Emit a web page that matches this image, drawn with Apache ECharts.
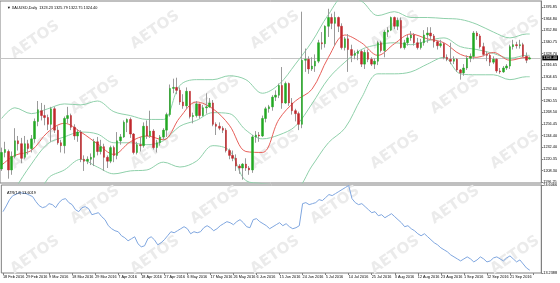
<!DOCTYPE html>
<html><head><meta charset="utf-8">
<script src="https://cdn.jsdelivr.net/npm/echarts@6/dist/echarts.min.js"></script>
<style>html,body{margin:0;padding:0;background:#fff}#c{width:560px;height:283px}</style>
</head><body><div id="c"></div>
<script>
// ---- trading days (categories) ----
const tradingMonths = [
  ['Feb', [18,19,22,23,24,25,26,29]],
  ['Mar', [1,2,3,4,7,8,9,10,11,14,15,16,17,18,21,22,23,24,25,28,29,30,31]],
  ['Apr', [1,4,5,6,7,8,11,12,13,14,15,18,19,20,21,22,25,26,27,28,29]],
  ['May', [2,3,4,5,6,9,10,11,12,13,16,17,18,19,20,23,24,25,26,27,30,31]],
  ['Jun', [1,2,3,6,7,8,9,10,13,14,15,16,17,20,21,22,23,24,27,28,29,30]],
  ['Jul', [1,4,5,6,7,8,11,12,13,14,15,18,19,20,21,22,25,26,27,28,29]],
  ['Aug', [1,2,3,4,5,8,9,10,11,12,15,16,17,18,19,22,23,24,25,26,29,30,31]],
  ['Sep', [1,2,5,6,7,8,9,12,13,14,15,16,19,20,21,22,23,26,27,28,29]]
];
const year = 2016;

// ---- XAUUSD daily OHLC ----
const openP = [
1210,1227,1228,1209,1223,1239,1236,1222,1236,1231,
1241,1259,1270,1265,1263,1256,1272,1250,1237,1234,
1262,1265,1253,1244,1248,1220,1218,1220,1222,1238,
1228,1233,1222,1218,1232,1224,1239,1243,1258,1261,
1246,1227,1235,1234,1254,1244,1249,1232,1237,1243,
1250,1266,1293,1294,1291,1279,1275,1290,1264,1265,
1277,1265,1273,1274,1278,1256,1254,1252,1250,1229,
1224,1221,1213,1211,1215,1211,1209,1243,1245,1244,
1262,1272,1274,1284,1286,1296,1278,1298,1278,1270,
1267,1256,1322,1323,1313,1316,1321,1340,1339,1357,
1366,1360,1366,1357,1335,1344,1333,1327,1329,1331,
1318,1330,1323,1318,1321,1340,1332,1351,1353,1366,
1357,1363,1335,1340,1345,1348,1340,1335,1340,1348,
1350,1347,1341,1337,1339,1325,1323,1321,1323,1312,
1309,1314,1324,1326,1350,1347,1336,1328,1327,1320,
1323,1311,1310,1314,1316,1336,1338,1337,1338,1326,
1323.23];
const closeP = [
1227,1230,1209,1223,1239,1236,1221,1236,1231,1241,
1259,1271,1265,1263,1256,1272,1250,1237,1234,1262,
1265,1253,1244,1248,1220,1218,1220,1222,1238,1228,
1233,1222,1218,1232,1224,1239,1243,1258,1261,1246,
1227,1235,1234,1254,1244,1249,1232,1237,1243,1250,
1266,1293,1294,1291,1279,1275,1290,1264,1265,1277,
1265,1273,1274,1278,1256,1254,1252,1250,1229,1224,
1221,1213,1211,1215,1211,1209,1243,1245,1244,1262,
1272,1274,1284,1286,1296,1278,1298,1278,1270,1267,
1256,1322,1323,1313,1316,1321,1340,1339,1357,1366,
1360,1366,1357,1335,1344,1333,1327,1329,1331,1318,
1330,1323,1318,1321,1340,1332,1351,1353,1366,1357,
1363,1335,1340,1345,1348,1340,1335,1340,1348,1350,
1347,1341,1337,1339,1325,1323,1321,1323,1312,1309,
1314,1324,1326,1350,1347,1336,1328,1327,1320,1323,
1311,1310,1314,1316,1336,1338,1337,1338,1326,1322,
1324.40];
const lowP = [
1208,1222,1200,1204,1221,1229,1216,1220,1225,1227,
1237,1254,1260,1255,1250,1238,1247,1235,1227,1226,
1257,1250,1240,1238,1217,1208,1215,1214,1213,1224,
1225,1208,1211,1216,1217,1220,1235,1242,1248,1242,
1225,1225,1228,1232,1241,1242,1230,1227,1234,1240,
1243,1264,1288,1287,1276,1272,1272,1262,1257,1263,
1262,1264,1267,1273,1254,1245,1250,1247,1227,1220,
1218,1208,1205,1199,1208,1204,1206,1237,1238,1243,
1258,1268,1270,1280,1283,1272,1277,1275,1266,1259,
1250,1252,1310,1308,1311,1310,1319,1333,1335,1346,
1354,1337,1351,1333,1332,1310,1320,1323,1322,1315,
1313,1320,1316,1313,1317,1330,1325,1346,1352,1354,
1353,1334,1333,1337,1342,1337,1333,1333,1337,1340,
1343,1335,1333,1335,1323,1321,1318,1318,1310,1302,
1306,1312,1320,1323,1343,1334,1326,1321,1316,1318,
1309,1308,1309,1312,1313,1333,1334,1334,1325,1319,
1322.75];
const highP = [
1232,1238,1230,1228,1252,1244,1242,1244,1240,1245,
1262,1280,1278,1276,1266,1274,1274,1254,1240,1264,
1274,1267,1256,1251,1250,1224,1223,1226,1241,1243,
1240,1236,1224,1234,1234,1248,1246,1260,1262,1263,
1247,1238,1243,1258,1260,1270,1251,1240,1245,1252,
1268,1297,1303,1304,1294,1287,1294,1290,1268,1280,
1277,1276,1288,1283,1281,1258,1258,1254,1252,1231,
1229,1225,1215,1216,1221,1213,1245,1249,1248,1265,
1274,1276,1286,1291,1298,1315,1300,1299,1283,1272,
1269,1372,1334,1326,1325,1328,1343,1351,1358,1375,
1370,1372,1367,1360,1346,1349,1338,1332,1333,1333,
1333,1333,1325,1324,1342,1342,1353,1356,1367,1367,
1366,1366,1343,1348,1352,1350,1345,1344,1353,1356,
1356,1349,1342,1343,1340,1328,1340,1326,1324,1313,
1318,1327,1329,1352,1352,1349,1340,1331,1329,1326,
1324,1314,1316,1318,1338,1343,1341,1343,1340,1330,
1325.79];

// ---- Bollinger Bands (20) and red MA, read at sample bars ----
const bandIdx = [0,4,9,14,19,24,29,34,39,44,49,54,59,64,69,74,79,84,89,94,99,104,109,114,119,124,129,134,139,144,149,154,159,160];
const bbUpper = [1262,1273,1267,1272,1277,1276,1280,1269,1265,1261,1261,1296,1302,1302,1306,1302,1288,1297,1318,1341,1369,1388,1383,1368,1372,1366,1366,1365,1364,1359,1351,1345,1349,1349];
const bbMiddle = [1165,1189,1215,1236,1243,1248,1246,1237,1237,1235,1239,1254,1260,1268,1267,1250,1241,1245,1254,1277,1303,1320,1333,1338,1340,1338,1342,1345,1336,1333,1329,1324,1327,1327];
const bbLower = [1068,1105,1163,1200,1209,1220,1212,1205,1208,1209,1217,1212,1218,1234,1229,1198,1195,1193,1190,1213,1237,1252,1283,1308,1308,1310,1318,1325,1308,1307,1307,1302,1305,1305];
const maRed = [1214,1224,1229,1248,1257,1248,1236,1225,1238,1244,1240,1263,1279,1272,1255,1228,1227,1261,1280,1292,1325,1348,1340,1327,1339,1349,1344,1340,1328,1325,1330,1322,1325,1325];

// ---- ATR(14) ----
const atr = [
21.16,21.90,22.72,23.24,23.40,23.63,23.55,23.50,23.30,23.11,
22.46,21.94,21.68,21.81,22.20,22.07,21.68,22.33,22.72,22.85,
22.33,22.07,21.42,21.16,21.68,21.81,21.55,20.77,20.90,21.03,
20.51,20.12,19.35,18.96,18.70,18.57,18.05,17.79,17.40,17.66,
17.92,17.01,16.62,16.75,17.66,17.92,17.53,16.88,17.14,17.53,
18.05,18.57,18.44,18.70,18.96,19.22,18.96,18.31,18.57,18.44,
18.57,19.09,19.35,19.09,18.70,18.96,19.35,19.61,19.87,19.74,
19.48,19.87,20.13,19.74,19.22,19.09,20.13,20.26,19.87,19.61,
19.35,18.96,19.22,19.48,19.74,19.35,19.61,19.22,18.96,19.09,
19.35,22.20,22.33,22.07,22.20,22.33,22.72,22.59,22.98,23.37,
23.24,23.50,23.76,24.02,24.28,24.54,22.85,22.33,22.07,22.20,
21.81,21.42,21.03,21.16,20.64,20.77,20.38,20.64,20.90,20.51,
20.12,19.74,19.22,19.35,18.96,18.70,18.31,18.05,18.31,17.92,
17.53,17.14,16.88,16.49,16.23,15.97,15.58,15.32,15.06,14.80,
15.06,15.32,15.06,14.67,14.93,15.32,15.06,14.67,14.80,15.19,
15.32,15.06,14.80,15.19,15.45,15.06,14.67,14.93,14.41,13.89,
13.60];

// ---- axis ticks / texts ----
const priceTicks = [1196.25,1208.30,1220.35,1232.40,1244.40,1256.45,1268.50,1280.55,1292.60,1304.65,1316.65,1328.70,1340.75,1352.80,1364.80,1376.85];
const priceMin = 1195.55, priceMax = 1383.0;
const atrMin = 13.2388, atrMax = 24.6066;
const lastPrice = 1324.40;
const titleText = '\u25BC XAUUSD,Daily  1323.23 1325.79 1322.75 1324.40';
const atrTitle = 'ATR(14) 13.6019';
const watermarkText = 'AETOS';

// ---- build ----
const dates = [];
tradingMonths.forEach(([m, days]) => days.forEach(d => dates.push(d + ' ' + m + ' ' + year)));
const cats = dates.concat(['', '', '']);
const candleData = openP.map((o, i) => [o, closeP[i], lowP[i], highP[i]]);
const bodyData = openP.map((o, i) => [o, closeP[i], Math.min(o, closeP[i]), Math.max(o, closeP[i])]);
const pairs = arr => bandIdx.map((k, i) => [k, arr[i]]);

const FONT = 'Liberation Sans';
const wmPos = [[35,40],[155,30],[275,30],[395,30],[515,35],[95,95],[215,95],[335,95],[455,95],
  [35,150],[155,150],[275,150],[395,150],[515,150],[95,205],[215,205],[335,205],[455,205],
  [35,255],[155,255],[275,255],[395,255],[515,255]];
const graphics = wmPos.map(p => ({
  type: 'text', x: p[0], y: p[1], rotation: 0.6, silent: true, z: 0,
  style: { text: watermarkText, font: 'bold 15px "DejaVu Sans"', fill: '#ebebeb', align: 'center', verticalAlign: 'middle', textAlign: 'center', textVerticalAlign: 'middle' }
}));

const lineBase = (data, color) => ({
  type: 'line', xAxisIndex: 0, yAxisIndex: 0, data: data, smooth: 0.35, showSymbol: false,
  symbol: 'none', silent: true, z: 2, lineStyle: { width: 1, color: color }
});

const chart = echarts.init(document.getElementById('c'), null, { renderer: 'canvas' });
chart.setOption({
  animation: false,
  backgroundColor: '#ffffff',
  graphic: graphics,
  title: [
    { text: titleText, left: 2, top: 1, textStyle: { fontSize: 3.8, fontWeight: 'normal', color: '#000', fontFamily: FONT } },
    { text: atrTitle, left: 2, top: 186, textStyle: { fontSize: 3.8, fontWeight: 'normal', color: '#000', fontFamily: FONT } }
  ],
  grid: [
    { left: 0, right: 15, top: 1, height: 182, show: true, borderColor: '#808080', borderWidth: 1 },
    { left: 0, right: 15, top: 185, height: 88, show: true, borderColor: '#808080', borderWidth: 1 }
  ],
  xAxis: [
    { type: 'category', gridIndex: 0, data: cats, boundaryGap: true,
      axisLine: { show: false }, axisTick: { show: false }, axisLabel: { show: false }, splitLine: { show: false } },
    { type: 'category', gridIndex: 1, data: cats, boundaryGap: true,
      axisLine: { show: false },
      axisTick: { show: true, interval: 6, alignWithLabel: true, length: 2, lineStyle: { color: '#808080' } },
      axisLabel: { interval: 6, fontSize: 3.8, color: '#000', align: 'left', margin: 2, fontFamily: FONT },
      splitLine: { show: false } }
  ],
  yAxis: [
    { type: 'value', gridIndex: 0, position: 'right', min: priceMin, max: priceMax,
      splitLine: { show: false },
      axisLine: { show: true, lineStyle: { color: '#808080' } },
      axisTick: { show: true, length: 2, customValues: priceTicks, lineStyle: { color: '#808080' } },
      axisLabel: { customValues: priceTicks, formatter: v => Number(v).toFixed(2), fontSize: 3.8, margin: 2, color: '#000', fontFamily: FONT } },
    { type: 'value', gridIndex: 1, position: 'right', min: atrMin, max: atrMax,
      splitLine: { show: false },
      axisLine: { show: true, lineStyle: { color: '#808080' } },
      axisTick: { show: true, length: 2, customValues: [atrMin, atrMax], lineStyle: { color: '#808080' } },
      axisLabel: { customValues: [atrMin, atrMax], formatter: v => Number(v).toFixed(4), fontSize: 3.8, margin: 2, color: '#000', fontFamily: FONT } }
  ],
  series: [
    { type: 'candlestick', name: 'wick', xAxisIndex: 0, yAxisIndex: 0, data: candleData, barWidth: 1, z: 3, silent: true,
      itemStyle: { color: '#9a9a9a', color0: '#9a9a9a', borderColor: '#9a9a9a', borderColor0: '#9a9a9a', borderWidth: 1 },
      markLine: { silent: true, symbol: 'none', z: 1,
        data: [{ yAxis: lastPrice }],
        lineStyle: { color: '#c4c4c4', type: 'solid', width: 1 },
        label: { position: 'end', formatter: lastPrice.toFixed(2), backgroundColor: '#000', color: '#fff', fontSize: 3.8, padding: [0.5, 1], distance: 1, fontFamily: FONT } } },
    { type: 'candlestick', name: 'body', xAxisIndex: 0, yAxisIndex: 0, data: bodyData, barWidth: 2, z: 4, silent: true,
      itemStyle: { color: '#22a822', color0: '#c0282d', borderColor: '#22a822', borderColor0: '#c0282d', borderWidth: 0.5 } },
    lineBase(pairs(bbUpper), '#8fd0aa'),
    lineBase(pairs(bbMiddle), '#8fd0aa'),
    lineBase(pairs(bbLower), '#8fd0aa'),
    lineBase(pairs(maRed), '#e8605a'),
    { type: 'line', xAxisIndex: 1, yAxisIndex: 1, data: atr, showSymbol: false, symbol: 'none', silent: true,
      lineStyle: { width: 1, color: '#7fa6df' } }
  ]
});
</script>
</body></html>
